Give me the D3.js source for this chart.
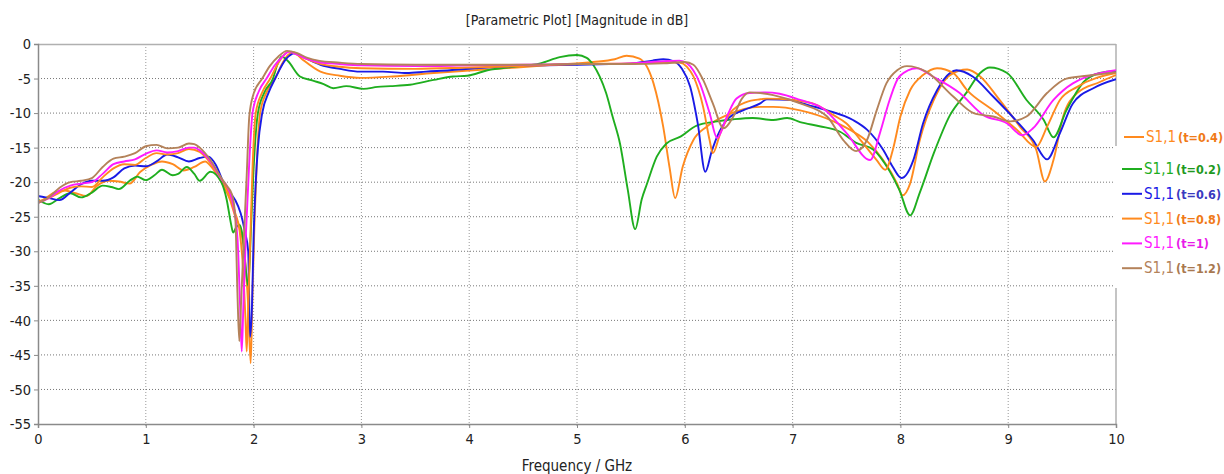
<!DOCTYPE html>
<html>
<head>
<meta charset="utf-8">
<script src="https://cdn.jsdelivr.net/npm/d3@7"></script>
<style>
body { margin: 0; background: #fff; }
svg text { font-family: "DejaVu Sans Condensed", "DejaVu Sans", sans-serif; }
</style>
</head>
<body>
<div id="chart"></div>
<script>
// S1,1 in dB against frequency in GHz, one [f, dB] list per t value
const t04 = [[0,-23.0],[0.1,-22.0],[0.15,-21.5],[0.25,-21.2],[0.35,-21.6],[0.45,-22.0],[0.55,-20.5],[0.65,-19.8],[0.75,-19.9],[0.85,-20.2],[0.95,-18.5],[1.05,-17.5],[1.15,-17.0],[1.25,-17.4],[1.35,-18.3],[1.45,-17.8],[1.55,-17.0],[1.62,-18.0],[1.72,-20.5],[1.78,-22.5],[1.83,-25],[1.88,-27],[1.92,-31],[1.95,-38],[1.973,-46.2],[1.99,-36],[2.01,-25],[2.03,-17],[2.06,-10],[2.12,-7],[2.2,-5],[2.26,-3],[2.32,-1.6],[2.37,-1.2],[2.45,-2.2],[2.62,-4.0],[2.8,-4.6],[2.99,-4.9],[3.29,-4.7],[3.67,-4.2],[4.04,-3.8],[4.44,-3.4],[4.78,-3.0],[5.15,-2.6],[5.35,-2.2],[5.46,-1.7],[5.58,-2.1],[5.71,-5.7],[5.8,-12],[5.86,-18],[5.91,-22.3],[5.98,-17.8],[6.08,-13.9],[6.2,-12.0],[6.39,-10.3],[6.7,-9.1],[6.82,-9.1],[7.07,-9.6],[7.38,-11.2],[7.53,-12.4],[7.7,-14.2],[7.84,-16.8],[7.97,-20.2],[8.02,-21.9],[8.09,-20.2],[8.18,-13.9],[8.31,-8.1],[8.46,-4.5],[8.62,-3.7],[8.74,-4.7],[8.92,-8.1],[9.11,-12.0],[9.26,-15.3],[9.34,-19.9],[9.42,-16.8],[9.51,-10.5],[9.64,-7.1],[9.85,-5.5],[10,-4.5]]

const t02 = [[0,-22.5],[0.1,-23.2],[0.2,-22.3],[0.3,-21.6],[0.4,-22.2],[0.5,-21.5],[0.6,-20.5],[0.68,-20.7],[0.75,-21.0],[0.85,-19.8],[0.92,-19.2],[1.0,-19.7],[1.08,-19.0],[1.15,-18.2],[1.25,-19.0],[1.3,-18.8],[1.38,-17.8],[1.45,-18.8],[1.5,-19.8],[1.6,-18.5],[1.7,-20.0],[1.75,-22.5],[1.79,-26],[1.81,-27.3],[1.84,-26.5],[1.87,-26.2],[1.9,-28],[1.93,-33],[1.95,-35],[1.975,-27],[2.0,-18],[2.04,-10],[2.1,-7],[2.18,-5],[2.22,-3],[2.26,-1.8],[2.32,-2.5],[2.43,-4.7],[2.55,-5.3],[2.65,-5.8],[2.74,-6.4],[2.86,-6.1],[3.02,-6.5],[3.15,-6.2],[3.27,-6.1],[3.45,-5.9],[3.67,-5.2],[3.85,-4.7],[3.98,-4.6],[4.17,-3.8],[4.41,-3.3],[4.66,-2.8],[4.84,-1.9],[5.0,-1.6],[5.09,-2.0],[5.15,-3.0],[5.21,-4.7],[5.27,-7.1],[5.33,-10.5],[5.4,-14.5],[5.47,-21],[5.54,-26.8],[5.6,-22.5],[5.65,-20.2],[5.74,-16.3],[5.83,-14.4],[5.96,-13.4],[6.11,-11.8],[6.3,-11.2],[6.45,-10.9],[6.63,-10.7],[6.82,-11.0],[6.95,-10.7],[7.07,-11.3],[7.25,-11.9],[7.44,-12.7],[7.59,-14.3],[7.75,-15.3],[7.9,-18.4],[7.99,-21.1],[8.09,-24.8],[8.18,-21.5],[8.31,-15.8],[8.46,-10.3],[8.62,-6.9],[8.74,-4.2],[8.83,-3.4],[8.99,-4.2],[9.17,-8.1],[9.33,-11.0],[9.42,-13.5],[9.54,-9.6],[9.7,-5.5],[9.85,-4.2],[10,-3.9]]

const t06 = [[0,-22.0],[0.1,-22.3],[0.2,-22.6],[0.3,-21.5],[0.4,-20.3],[0.5,-19.8],[0.6,-19.8],[0.7,-19.3],[0.8,-18.0],[0.9,-17.6],[1.0,-17.7],[1.1,-17.0],[1.2,-16.0],[1.3,-16.4],[1.4,-17.0],[1.5,-16.5],[1.58,-16.3],[1.65,-17.5],[1.72,-20],[1.78,-21.5],[1.83,-22.6],[1.88,-24.5],[1.92,-27.2],[1.95,-30],[1.967,-42.4],[1.985,-38],[2.0,-28],[2.02,-20],[2.04,-15],[2.08,-10],[2.14,-7],[2.2,-5],[2.3,-2.2],[2.38,-1.35],[2.45,-1.8],[2.62,-3.0],[2.8,-3.6],[2.99,-4.0],[3.2,-4.0],[3.42,-4.2],[3.6,-4.0],[3.82,-3.8],[4.05,-3.5],[4.29,-3.3],[4.6,-3.1],[5.0,-3.0],[5.3,-2.9],[5.52,-2.8],[5.7,-2.4],[5.8,-2.2],[5.9,-2.5],[5.97,-3.5],[6.05,-6.2],[6.12,-11.5],[6.19,-18.5],[6.25,-15.5],[6.3,-13.4],[6.39,-11.0],[6.54,-9.6],[6.7,-8.6],[6.76,-8.0],[7.0,-8.1],[7.07,-8.5],[7.32,-9.6],[7.56,-11.0],[7.69,-12.4],[7.84,-15.3],[7.93,-17.8],[8.01,-19.4],[8.12,-16.8],[8.21,-11.5],[8.34,-6.7],[8.46,-4.2],[8.52,-3.8],[8.67,-4.7],[8.86,-7.6],[9.08,-11.2],[9.23,-13.9],[9.36,-16.7],[9.48,-12.9],[9.6,-8.6],[9.79,-6.4],[10,-5.1]]

const t08 = [[0,-22.8],[0.1,-22.3],[0.2,-21.5],[0.3,-20.8],[0.4,-20.6],[0.5,-20.7],[0.6,-19.3],[0.7,-18.0],[0.8,-17.4],[0.9,-17.5],[1.0,-16.5],[1.1,-15.8],[1.2,-16.0],[1.3,-15.8],[1.4,-15.2],[1.5,-15.6],[1.6,-17.2],[1.72,-20],[1.78,-22],[1.83,-24.5],[1.87,-27],[1.9,-32],[1.925,-40],[1.936,-44.5],[1.95,-38],[1.97,-28],[1.99,-18],[2.02,-10],[2.08,-7],[2.155,-5],[2.22,-3],[2.28,-1.6],[2.33,-1.1],[2.42,-1.7],[2.6,-2.8],[2.8,-3.3],[3.0,-3.5],[3.5,-3.6],[4.0,-3.4],[4.5,-3.2],[5.0,-2.9],[5.5,-2.8],[5.8,-2.6],[5.95,-2.7],[6.02,-3.3],[6.08,-4.7],[6.17,-9.1],[6.23,-13.9],[6.26,-15.8],[6.33,-12.9],[6.42,-10.0],[6.57,-8.4],[6.7,-8.0],[6.76,-7.9],[7.0,-8.1],[7.22,-8.8],[7.38,-10.3],[7.5,-11.5],[7.63,-13.9],[7.78,-16.8],[7.86,-18.2],[7.93,-15.3],[8.0,-10.5],[8.09,-6.7],[8.21,-4.5],[8.34,-3.5],[8.49,-4.2],[8.62,-6.7],[8.86,-9.6],[9.08,-12.4],[9.26,-14.9],[9.36,-12.0],[9.48,-8.1],[9.64,-6.2],[10,-4.2]]

const t10 = [[0,-23.0],[0.1,-22.3],[0.2,-21.2],[0.3,-20.5],[0.4,-20.2],[0.5,-20.0],[0.6,-18.8],[0.7,-17.4],[0.8,-17.0],[0.9,-16.7],[1.0,-15.9],[1.1,-15.4],[1.2,-15.7],[1.3,-15.5],[1.4,-15.0],[1.45,-15.0],[1.5,-15.4],[1.6,-17.0],[1.7,-19.5],[1.75,-20.5],[1.8,-22.5],[1.85,-28],[1.875,-38],[1.89,-44.5],[1.905,-38],[1.93,-27],[1.96,-17],[1.99,-10],[2.05,-6.8],[2.12,-5],[2.2,-3.0],[2.27,-1.8],[2.33,-1.1],[2.4,-1.5],[2.5,-2.2],[2.6,-2.6],[2.8,-2.9],[3.0,-3.1],[3.5,-3.2],[4.0,-3.1],[4.5,-3.0],[5.0,-2.9],[5.5,-2.8],[5.8,-2.5],[5.95,-2.4],[6.02,-2.8],[6.14,-5.7],[6.23,-10],[6.3,-13.6],[6.39,-10.5],[6.48,-7.9],[6.6,-7.1],[6.75,-7.0],[6.88,-7.2],[7.07,-8.1],[7.28,-9.3],[7.5,-12.9],[7.72,-16.8],[7.81,-12.9],[7.9,-8.1],[7.99,-4.7],[8.15,-3.5],[8.3,-4.7],[8.55,-7.1],[8.77,-10.3],[8.99,-11.5],[9.13,-13.2],[9.23,-12.2],[9.42,-8.1],[9.6,-5.7],[10,-3.8]]

const t12 = [[0,-23.0],[0.1,-22.2],[0.2,-20.8],[0.3,-20.0],[0.4,-19.8],[0.5,-19.4],[0.6,-17.8],[0.7,-16.6],[0.8,-16.3],[0.9,-15.8],[1.0,-14.8],[1.1,-14.6],[1.2,-15.1],[1.3,-15.0],[1.4,-14.4],[1.45,-14.5],[1.5,-15.0],[1.6,-16.8],[1.7,-19.4],[1.75,-20.5],[1.8,-21.8],[1.83,-25],[1.85,-36],[1.867,-43],[1.885,-37],[1.91,-28],[1.936,-19],[1.96,-10.5],[2.0,-7.2],[2.08,-5],[2.15,-3.2],[2.23,-1.8],[2.31,-1.0],[2.4,-1.3],[2.5,-2.0],[2.6,-2.4],[2.8,-2.7],[3.0,-2.9],[3.5,-3.0],[4.0,-3.0],[4.5,-3.0],[5.0,-2.9],[5.5,-2.9],[5.8,-2.8],[6.0,-2.6],[6.08,-3.0],[6.17,-5.2],[6.26,-8.6],[6.36,-12.2],[6.45,-10.5],[6.53,-7.9],[6.6,-7.0],[6.7,-7.1],[6.82,-7.4],[7.07,-8.6],[7.32,-10.5],[7.47,-13.9],[7.59,-15.5],[7.69,-13.9],[7.78,-9.6],[7.87,-5.7],[7.97,-3.8],[8.06,-3.2],[8.24,-4.0],[8.49,-7.6],[8.68,-10.0],[8.86,-10.5],[9.02,-11.2],[9.17,-10.5],[9.36,-7.1],[9.54,-5.0],[9.73,-4.6],[10,-4.1]]

const seriesData = [t04, t02, t06, t08, t10, t12]
const seriesName = "S1,1"
const seriesTags = ["(t=0.4)", "(t=0.2)", "(t=0.6)", "(t=0.8)", "(t=1)", "(t=1.2)"]
const seriesColors = ["#ff8a1e", "#1fae1f", "#1a1ae6", "#ff8a1e", "#ff1aff", "#b4825a"]
const tagColors = ["#f07a18", "#1f9a1f", "#3a3ac0", "#f07a18", "#e81ae8", "#a8784f"]
const xTicks = [0, 1, 2, 3, 4, 5, 6, 7, 8, 9, 10]
const yTicks = [0, -5, -10, -15, -20, -25, -30, -35, -40, -45, -50, -55]

const W = 1224, H = 474
const margin = {top: 44, right: 108, bottom: 50, left: 38}
const x0 = margin.left, x1 = W - margin.right
const y0 = margin.top, y1 = H - margin.bottom

const svg = d3.select("#chart")
    .append("svg")
    .attr("width", W)
    .attr("height", H)

const x = d3.scaleLinear().domain([0, 10]).range([x0, x1])
const y = d3.scaleLinear().domain([-55, 0]).range([y1, y0])

// title
svg.append("text")
    .attr("x", (x0 + x1) / 2)
    .attr("y", 25)
    .attr("text-anchor", "middle")
    .style("font-size", "14px")
    .style("fill", "#222")
    .text("[Parametric Plot] [Magnitude in dB]")

// grid
svg.append("g")
    .selectAll("line")
    .data(xTicks.slice(1, -1))
    .join("line")
    .attr("x1", d => x(d)).attr("x2", d => x(d))
    .attr("y1", y0).attr("y2", y1 + 4)
    .attr("stroke", "#999")
    .attr("stroke-dasharray", "1,2")

svg.append("g")
    .selectAll("line")
    .data(yTicks.slice(1, -1))
    .join("line")
    .attr("x1", x0).attr("x2", x1)
    .attr("y1", d => y(d)).attr("y2", d => y(d))
    .attr("stroke", "#777")
    .attr("stroke-dasharray", "1,2")

// frame top / right
svg.append("line")
    .attr("x1", x0).attr("x2", x1).attr("y1", y0 + 0.5).attr("y2", y0 + 0.5)
    .attr("stroke", "#b0b0b0").attr("stroke-width", 1.5)
svg.append("line")
    .attr("x1", x1).attr("x2", x1).attr("y1", y0).attr("y2", y1)
    .attr("stroke", "#b0b0b0").attr("stroke-width", 1.5)

// curves
svg.append("clipPath").attr("id", "plotclip")
    .append("rect")
    .attr("x", x0).attr("y", y0 - 2)
    .attr("width", x1 - x0).attr("height", y1 - y0 + 4)

const line = d3.line()
    .x(d => x(d[0]))
    .y(d => y(d[1]))
    .curve(d3.curveMonotoneX)

svg.append("g")
    .attr("clip-path", "url(#plotclip)")
    .selectAll("path")
    .data(seriesData)
    .join("path")
    .attr("d", line)
    .attr("fill", "none")
    .attr("stroke", (d, i) => seriesColors[i])
    .attr("stroke-width", 1.9)
    .attr("stroke-linejoin", "round")

// axes
const yAxis = svg.append("g")
    .attr("transform", `translate(${x0},0)`)
    .call(d3.axisLeft(y).tickValues(yTicks).tickSize(4).tickPadding(3).tickFormat(d => String(d)))
const xAxis = svg.append("g")
    .attr("transform", `translate(0,${y1})`)
    .call(d3.axisBottom(x).tickValues(xTicks).tickSize(4).tickPadding(6).tickFormat(d => String(d)))

for (const ax of [yAxis, xAxis]) {
    ax.select(".domain").attr("stroke", "#8a8a8a").attr("stroke-width", 1.5)
    ax.selectAll(".tick line").attr("stroke", "#8a8a8a")
    ax.selectAll(".tick text").style("font-size", "14.5px").style("fill", "#222")
}

svg.append("text")
    .attr("x", (x0 + x1) / 2)
    .attr("y", 471)
    .attr("text-anchor", "middle")
    .style("font-size", "15px")
    .style("fill", "#222")
    .text("Frequency / GHz")

// legend
svg.append("rect")
    .attr("x", x1 - 2).attr("y", 146)
    .attr("width", W - x1 + 2).attr("height", 142)
    .attr("fill", "#fff")

const legend = svg.append("g")
    .selectAll("g")
    .data(seriesTags)
    .join("g")
    .attr("transform", (d, i) => i === 0
        ? `translate(${x1 + 8},137)`
        : `translate(${x1 + 6},${169 + (i - 1) * 24.8})`)

legend.append("line")
    .attr("x1", 0).attr("x2", 20)
    .attr("stroke", (d, i) => seriesColors[i])
    .attr("stroke-width", 2)

const ltext = legend.append("text")
    .attr("x", 22)
    .attr("y", 5)
    .style("font-size", "15px")
    .style("fill", (d, i) => seriesColors[i])

ltext.append("tspan").text(seriesName)
ltext.append("tspan")
    .attr("dx", 2)
    .style("font-size", "12.5px")
    .style("font-weight", "bold")
    .style("fill", (d, i) => tagColors[i])
    .text(d => d)
</script>
</body>
</html>
